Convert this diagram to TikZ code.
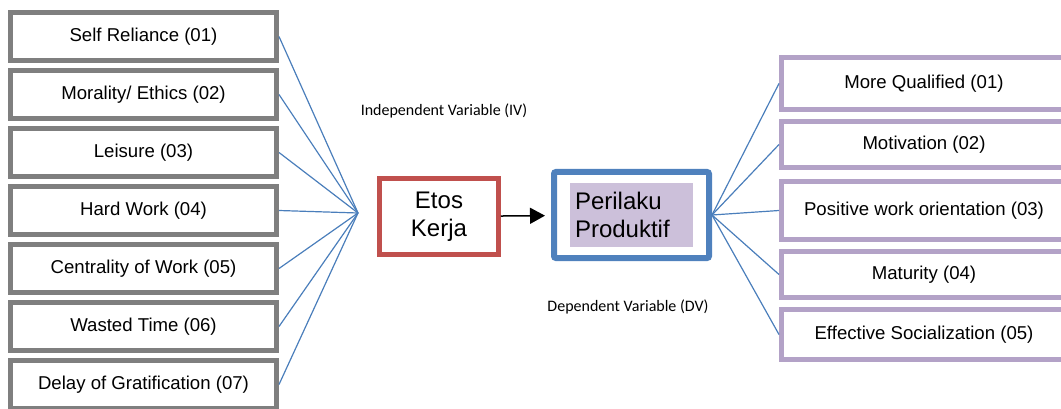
\documentclass[tikz,border=0pt]{standalone}
\usepackage{fontspec}
\setmainfont{Liberation Sans}
\newfontfamily\calibri{Carlito}
\usetikzlibrary{arrows.meta,positioning}

\definecolor{boxgray}{HTML}{7F7F7F}
\definecolor{etosred}{HTML}{C0504D}
\definecolor{perblue}{HTML}{4F81BD}
\definecolor{perfill}{HTML}{CCC0DA}
\definecolor{dvlila}{HTML}{B3A2C7}
\definecolor{linkblue}{HTML}{4A7EBB}

\begin{document}
\begin{tikzpicture}[x=1pt,y=-1pt,>=Stealth,
  ivbox/.style={draw=boxgray,line width=5pt,minimum width=266pt,minimum height=48pt,
    inner sep=0pt,font=\fontsize{18.6}{21}\selectfont},
  dvbox/.style={draw=dvlila,line width=5pt,minimum width=285pt,inner sep=0pt,
    font=\fontsize{18.6}{21}\selectfont},
  link/.style={draw=linkblue,line width=1.2pt},
  varlabel/.style={font=\calibri\fontsize{16}{18}\selectfont}]
\useasboundingbox (0,0) rectangle (1061,409);
\clip (0,0) rectangle (1061,409);

% independent side
\node (l1) [ivbox] at (143.5,36.5) {Self Reliance (01)};
\node (l2) [ivbox,below=5pt of l1] {Morality/ Ethics (02)};
\node (l3) [ivbox,below=5pt of l2] {Leisure (03)};
\node (l4) [ivbox,below=5pt of l3] {Hard Work (04)};
\node (l5) [ivbox,below=5pt of l4] {Centrality of Work (05)};
\node (l6) [ivbox,below=5pt of l5] {Wasted Time (06)};
\node (l7) [ivbox,below=5pt of l6] {Delay of Gratification (07)};
\coordinate (hub) at (358,213);
\foreach \n in {1,...,7}
  \draw[link] (l\n.east) -- (hub);

\node (ek) [draw=etosred,line width=4.5pt,minimum width=119pt,minimum height=76pt,
  align=center,font=\fontsize{24}{28}\selectfont] at (439,216.5) {Etos\\Kerja};
\node (iv) [varlabel] at (444,111) {Independent Variable (IV)};

% dependent side
\node (pb) [draw=perblue,line width=6pt,rounded corners=2pt,minimum width=155pt,
  minimum height=86pt] at (631.5,215) {};
\node (pp) [fill=perfill,minimum width=123pt,minimum height=64pt,text width=113pt,
  inner sep=5pt,align=left,font=\fontsize{24}{28}\selectfont] at (pb.center)
  {Perilaku\\Produktif};
\node (dv) [varlabel] at (628,307) {Dependent Variable (DV)};
\draw[line width=1.5pt,shorten >=6pt,-{Triangle[length=15pt,width=16pt]}] (ek) -- (pb);

\node (r1) [dvbox,minimum height=52pt] at (924,83.5) {More Qualified (01)};
\node (r2) [dvbox,minimum height=46pt,below=7pt of r1] {Motivation (02)};
\node (r3) [dvbox,minimum height=58pt,below=9pt of r2] {Positive work orientation (03)};
\node (r4) [dvbox,minimum height=46pt,below=7pt of r3] {Maturity (04)};
\node (r5) [dvbox,minimum height=50pt,below=7pt of r4] {Effective Socialization (05)};
\foreach \n in {1,...,5}
  \draw[link] (pb.east) -- (r\n.west);
\end{tikzpicture}
\end{document}
